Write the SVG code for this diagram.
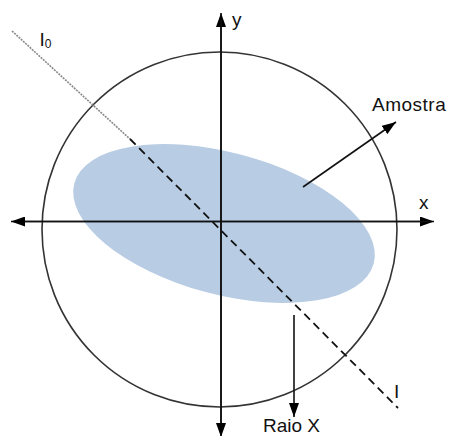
<svg xmlns="http://www.w3.org/2000/svg" width="451" height="436" viewBox="0 0 451 436">
  <defs>
    <marker id="arrow" viewBox="0 0 14 10" refX="14" refY="5" markerWidth="14" markerHeight="10" markerUnits="userSpaceOnUse" orient="auto">
      <path d="M0,0 L14,5 L0,10 z" fill="#000"/>
    </marker>
    <style>
      .lbl { font-family: "Liberation Sans", Arial, sans-serif; font-size: 19px; fill: #111; }
      .axis { stroke: #111; stroke-width: 1.6; fill: none; }
    </style>
  </defs>
  <rect width="451" height="436" fill="#fff"/>

  <g id="sample">
    <ellipse cx="224" cy="223.5" rx="155" ry="71" transform="rotate(15 224 223.5)" fill="#b8cce4"/>
  </g>

  <g id="circle">
    <circle cx="219.5" cy="229.5" r="177.5" fill="none" stroke="#333" stroke-width="1.6"/>
  </g>

  <g id="connectors">
    <line class="axis" x1="20" y1="221.5" x2="434" y2="221.5" marker-end="url(#arrow)"/>
    <line class="axis" x1="430" y1="221.5" x2="11" y2="221.5" marker-end="url(#arrow)"/>
    <line class="axis" x1="221" y1="430" x2="221" y2="13" marker-end="url(#arrow)"/>
    <line class="axis" x1="221" y1="20" x2="221" y2="437" marker-end="url(#arrow)"/>
    <line x1="12" y1="31" x2="130" y2="139" stroke="#888" stroke-width="1.6" stroke-dasharray="2 1"/>
    <line x1="130" y1="139" x2="398" y2="408" stroke="#111" stroke-width="1.8" stroke-dasharray="8 5"/>
    <line class="axis" x1="303" y1="187" x2="396" y2="122" marker-end="url(#arrow)"/>
    <line class="axis" x1="294" y1="315" x2="294" y2="417" marker-end="url(#arrow)"/>
  </g>

  <g id="labels">
    <text class="lbl" x="39.5" y="46">I<tspan font-size="12" dy="2">0</tspan></text>
    <text class="lbl" x="232" y="26">y</text>
    <text class="lbl" x="419" y="209">x</text>
    <text class="lbl" x="372" y="111" letter-spacing="0.5">Amostra</text>
    <text class="lbl" x="263" y="432">Raio X</text>
    <text class="lbl" x="394" y="398">I</text>
  </g>
</svg>
